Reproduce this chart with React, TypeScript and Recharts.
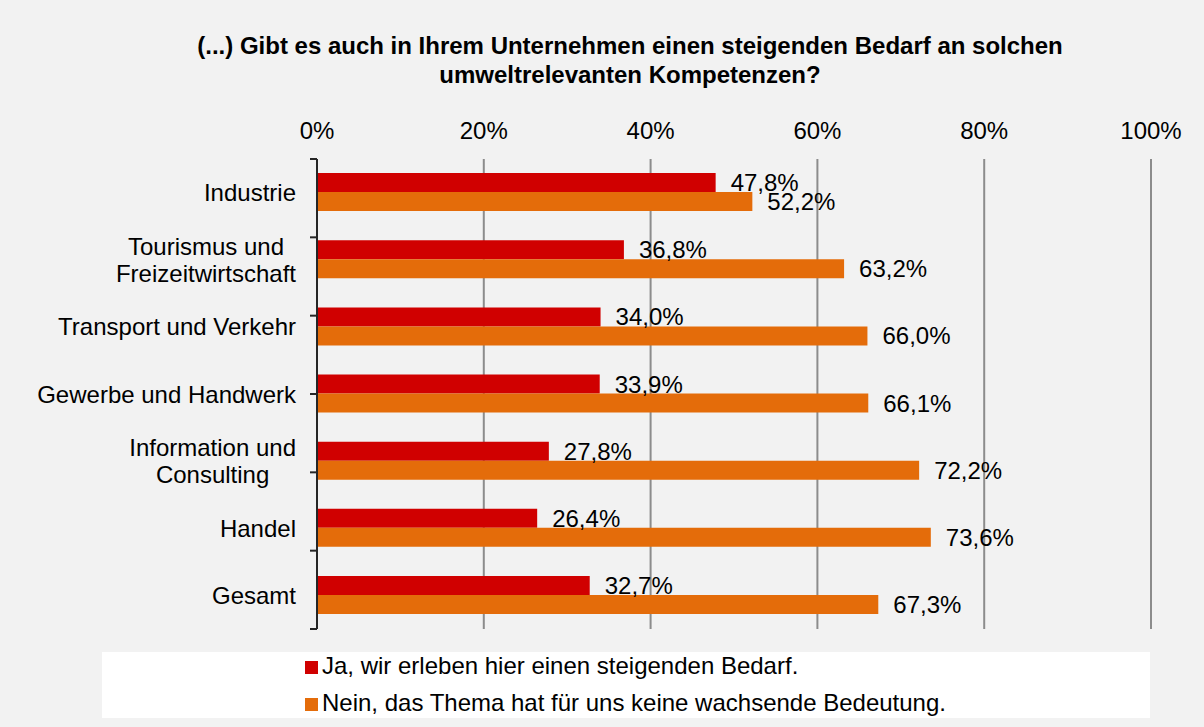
import { Bar, BarChart, CartesianGrid, LabelList, XAxis, YAxis } from "recharts";

const categories = [
  "Industrie",
  "Tourismus und\nFreizeitwirtschaft",
  "Transport und Verkehr",
  "Gewerbe und Handwerk",
  "Information und\nConsulting",
  "Handel",
  "Gesamt",
];
const jaValues = [47.8, 36.8, 34.0, 33.9, 27.8, 26.4, 32.7];
const neinValues = [52.2, 63.2, 66.0, 66.1, 72.2, 73.6, 67.3];
const xTicks = [0, 20, 40, 60, 80, 100];
const boundaryTicks = [0, 1, 2, 3, 4, 5, 6, 7];
const seriesNames = [
  "Ja, wir erleben hier einen steigenden Bedarf.",
  "Nein, das Thema hat für uns keine wachsende Bedeutung.",
];
const titleLines = [
  "(...) Gibt es auch in Ihrem Unternehmen einen steigenden Bedarf an solchen",
  "umweltrelevanten Kompetenzen?",
];

const RED = "#d00000";
const ORANGE = "#e46c0a";
const FONT = '"Liberation Sans", Arial, sans-serif';
const FS = 24;

const data = categories.map((name, i) => ({ name, ja: jaValues[i], nein: neinValues[i] }));

let ctx: CanvasRenderingContext2D | null = null;
function textWidth(s: string) {
  if (!ctx) ctx = document.createElement("canvas").getContext("2d");
  if (!ctx) return s.length * FS * 0.5;
  ctx.font = `${FS}px ${FONT}`;
  return ctx.measureText(s).width;
}

function CategoryTick(props: any) {
  const { x, y, payload } = props;
  const lines: string[] = String(payload.value).split("\n");
  const maxW = Math.max(...lines.map(textWidth));
  const cx = x - maxW / 2;
  return (
    <g>
      {lines.map((line, i) => (
        <text
          key={i}
          x={cx}
          y={y + (i - (lines.length - 1) / 2) * 27}
          textAnchor="middle"
          dominantBaseline="central"
          fontSize={FS}
          fontFamily={FONT}
          fill="#000"
        >
          {line}
        </text>
      ))}
    </g>
  );
}

const pct = (v: any) => `${Number(v).toFixed(1).replace(".", ",")}%`;

export default function App() {
  return (
    <div
      style={{
        position: "absolute",
        left: 0,
        top: 0,
        width: 1204,
        height: 727,
        background: "#f2f2f2",
        fontFamily: FONT,
        overflow: "hidden",
      }}
    >
      <div
        style={{
          position: "absolute",
          left: 56,
          right: 0,
          top: 31,
          textAlign: "center",
          fontWeight: "bold",
          fontSize: FS,
          lineHeight: "29px",
          color: "#000",
        }}
      >
        {titleLines.map((l, i) => (
          <div key={i}>{l}</div>
        ))}
      </div>

      <div style={{ position: "absolute", left: 0, top: 0 }}>
        <BarChart
          width={1204}
          height={727}
          data={data}
          layout="vertical"
          margin={{ top: 119, right: 53, bottom: 98, left: 16 }}
          barCategoryGap="21%"
          barGap={0}
        >
          <CartesianGrid horizontal={false} vertical stroke="#8c8c8c" strokeWidth={2} />
          <XAxis
            type="number"
            orientation="top"
            domain={[0, 100]}
            ticks={xTicks}
            tickFormatter={(v: number) => `${v}%`}
            axisLine={false}
            tickLine={false}
            tickSize={0}
            tickMargin={20}
            height={40}
            tick={{ fontSize: FS, fill: "#000", fontFamily: FONT }}
          />
          <YAxis
            yAxisId="bounds"
            type="number"
            domain={[0, 7]}
            ticks={boundaryTicks}
            width={1}
            tick={() => <g />}
            tickSize={7}
            axisLine={{ stroke: "#262626", strokeWidth: 2 }}
            tickLine={{ stroke: "#262626", strokeWidth: 2 }}
          />
          <YAxis
            yAxisId="cat"
            type="category"
            dataKey="name"
            width={300}
            axisLine={false}
            tickLine={false}
            tickSize={0}
            tickMargin={20}
            interval={0}
            tick={<CategoryTick />}
          />
          <Bar dataKey="ja" yAxisId="cat" fill={RED} isAnimationActive={false}>
            <LabelList
              dataKey="ja"
              position="right"
              offset={15}
              formatter={pct}
              fill="#000"
              fontSize={FS}
              fontFamily={FONT}
            />
          </Bar>
          <Bar dataKey="nein" yAxisId="cat" fill={ORANGE} isAnimationActive={false}>
            <LabelList
              dataKey="nein"
              position="right"
              offset={15}
              formatter={pct}
              fill="#000"
              fontSize={FS}
              fontFamily={FONT}
            />
          </Bar>
        </BarChart>
      </div>

      <div
        style={{
          position: "absolute",
          left: 102,
          top: 652,
          width: 1048,
          height: 66,
          background: "#fff",
        }}
      >
        {seriesNames.map((name, i) => (
          <div
            key={name}
            style={{
              position: "absolute",
              left: 203,
              top: i * 37,
              height: 28,
              display: "flex",
              alignItems: "center",
              fontSize: FS,
              lineHeight: "28px",
              whiteSpace: "nowrap",
              color: "#000",
            }}
          >
            <span
              style={{
                display: "inline-block",
                width: 13,
                height: 13,
                marginRight: 4,
                marginTop: 2,
                background: i === 0 ? RED : ORANGE,
              }}
            />
            {name}
          </div>
        ))}
      </div>
    </div>
  );
}
